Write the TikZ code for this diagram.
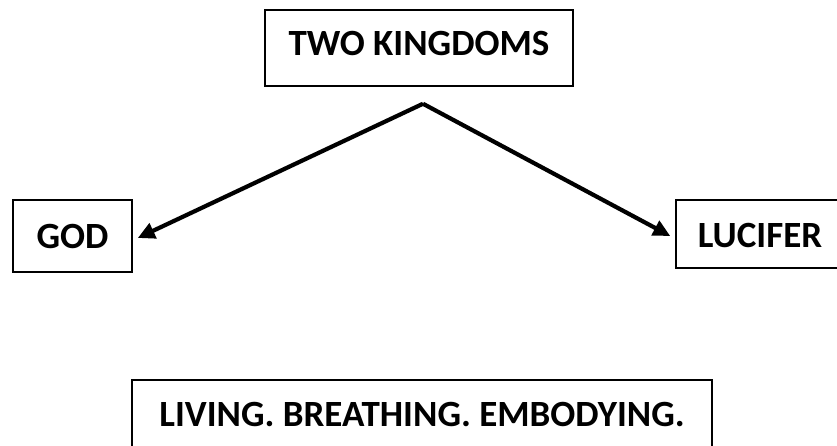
\documentclass[tikz,border=0pt]{standalone}
\usepackage{fontspec}
\setmainfont{Carlito}
\usetikzlibrary{arrows.meta,calc}
\begin{document}
\begin{tikzpicture}[x=1pt,y=-1pt,
  kbox/.style={draw=black, line width=1.5pt, rectangle, inner sep=0pt,
    font=\fontsize{37}{40}\selectfont\bfseries, text height=24pt, text depth=0pt},
  karrow/.style={line width=4.2pt, -{Triangle[length=17pt,width=16pt]}}]
\useasboundingbox (0,0) rectangle (837,446);
\clip (0,0) rectangle (837,446);
\node[kbox, minimum width=308pt, minimum height=76pt, text depth=8pt] (two) at (419,48) {TWO KINGDOMS};
\node[kbox, minimum width=119pt, minimum height=72pt] (god) at (72.5,236) {GOD};
\node[kbox, minimum width=168pt, minimum height=68pt, text height=27pt] (lucifer) at (760,234) {LUCIFER};
\node[kbox, minimum width=580pt, minimum height=72pt, text depth=4pt] (living) at (422,416) {LIVING. BREATHING. EMBODYING.};
\coordinate (apex) at ($(two.south)+(4,17)$);
\coordinate (godtip) at ($(god.east)+(5,2)$);
\coordinate (luctip) at ($(lucifer.west)+(-5,2)$);
\draw[karrow] (apex) -- (godtip);
\draw[karrow] (apex) -- (luctip);
\end{tikzpicture}
\end{document}
